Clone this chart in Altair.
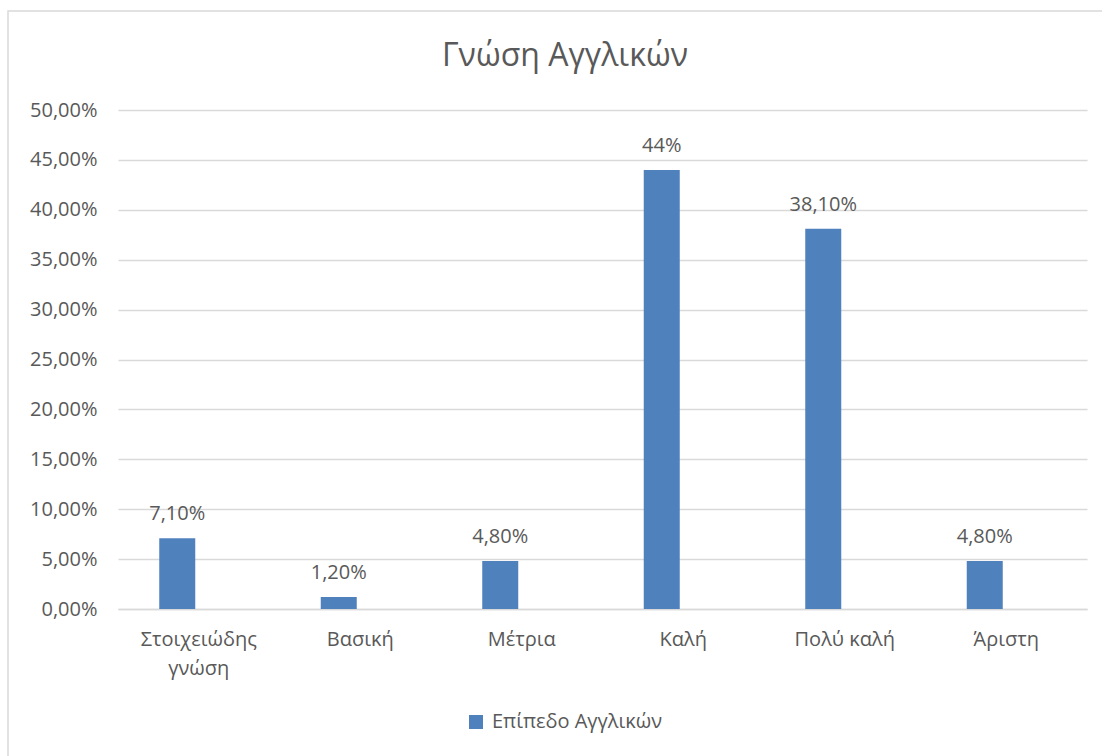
import altair as alt
import pandas as pd

categories = ["Στοιχειώδης γνώση", "Βασική", "Μέτρια", "Καλή", "Πολύ καλή", "Άριστη"]
values = [0.071, 0.012, 0.048, 0.44, 0.381, 0.048]
value_labels = ["7,10%", "1,20%", "4,80%", "44%", "38,10%", "4,80%"]
series_name = "Επίπεδο Αγγλικών"
chart_title = "Γνώση Αγγλικών"
y_ticks = [0.0, 0.05, 0.10, 0.15, 0.20, 0.25, 0.30, 0.35, 0.40, 0.45, 0.50]

df = pd.DataFrame({
    "cat": categories,
    "val": values,
    "lab": value_labels,
    "series": [series_name] * len(categories),
})

FONT = "Open Sans"
TXT = "#595959"
GRID = "#D9D9D9"
BLUE = "#4F81BD"
FS = 20

PL, PT = 118, 110
W, H = 969, 499
PR = 1102 - PL - W
PB = 756 - PT - H

x_enc = alt.X(
    "cat:N",
    sort=categories,
    title=None,
    scale=alt.Scale(paddingInner=0, paddingOuter=0),
    axis=alt.Axis(
        labelAngle=0,
        labelFontSize=FS,
        labelFont=FONT,
        labelColor=TXT,
        labelPadding=20,
        labelBaseline="top",
        labelLineHeight=29,
        ticks=False,
        domain=True,
        domainColor=GRID,
        domainWidth=1.5,
        labelExpr="datum.value == 'Στοιχειώδης γνώση' ? ['Στοιχειώδης', 'γνώση'] : datum.value",
    ),
)

y_enc = alt.Y(
    "val:Q",
    title=None,
    scale=alt.Scale(domain=[0, 0.5], nice=False),
    axis=alt.Axis(
        values=y_ticks,
        labelExpr="replace(format(datum.value, '.2%'), '.', ',')",
        labelFontSize=FS,
        labelFont=FONT,
        labelColor=TXT,
        labelPadding=21,
        ticks=False,
        domain=False,
        grid=True,
        gridColor=GRID,
        gridWidth=1.5,
    ),
)

bars = alt.Chart(df).mark_bar(size=36, xOffset=-21.5).encode(
    x=x_enc,
    y=y_enc,
    color=alt.Color(
        "series:N",
        scale=alt.Scale(range=[BLUE]),
        legend=alt.Legend(
            title=None,
            orient="none",
            legendX=348,
            legendY=602,
            symbolType="square",
            symbolSize=196,
            symbolStrokeWidth=0,
            labelFontSize=FS,
            labelFont=FONT,
            labelColor=TXT,
            labelOffset=6,
            labelLimit=0,
        ),
    ),
)

texts = alt.Chart(df).mark_text(
    xOffset=-21.5, dy=-18, baseline="alphabetic", align="center",
    fontSize=FS, font=FONT, color=TXT,
).encode(
    x=alt.X("cat:N", sort=categories),
    y=alt.Y("val:Q"),
    text="lab:N",
)

one = pd.DataFrame({"t": [chart_title]})

frame = alt.Chart(one).mark_rect(
    fill=None, stroke=GRID, strokeWidth=1.5
).encode(
    x=alt.value(8 - PL),
    y=alt.value(11 - PT),
    x2=alt.value(1200 - PL),
    y2=alt.value(900 - PT),
)

title = alt.Chart(one).mark_text(
    fontSize=32, font=FONT, color=TXT, align="center", baseline="alphabetic"
).encode(
    x=alt.value(565 - PL),
    y=alt.value(66 - PT),
    text="t:N",
)

chart = alt.layer(frame, title, bars, texts).properties(
    width=W,
    height=H,
    padding={"left": PL, "top": PT, "right": PR, "bottom": PB},
    autosize=alt.AutoSizeParams(type="none"),
).configure(
    background="white",
    view=alt.ViewConfig(stroke=None),
)

chart.save("out.html", embed_options={"renderer": "svg", "actions": False})
